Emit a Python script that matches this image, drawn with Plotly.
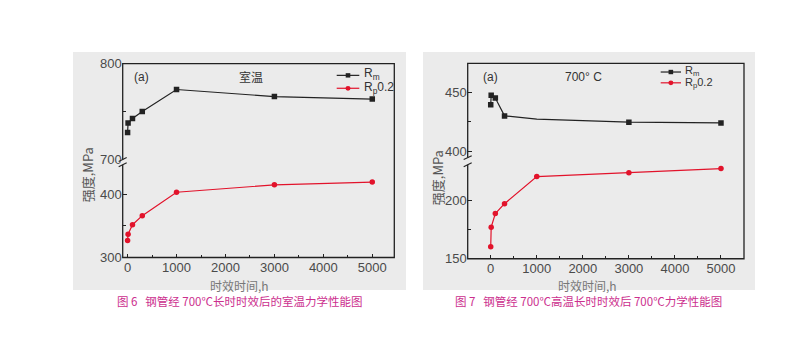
import plotly.graph_objects as go

# Aging time (h) for both test series
hours = [0, 10, 100, 300, 1000, 3000, 5000]

# Fig. 6: room-temperature properties after aging at 700 C (MPa)
rt_rm = [728, 738, 742.6, 750, 773, 765.6, 763]
rt_rp02 = [327, 336.7, 351.7, 366, 403, 414.6, 419]

# Fig. 7: 700 C properties after aging at 700 C (MPa)
ht_rm = [439.7, 447.8, 445.4, 430.2, 427.5, 424.8, 424.2]
ht_rp02 = [160.3, 177, 188.6, 197, 220.2, 223.5, 227]

x_ticks = [0, 1000, 2000, 3000, 4000, 5000]
x_minor = [500, 1500, 2500, 3500, 4500]

W, H = 806, 342
BLACK = "#222222"
RED = "#e2132b"
PANEL = "#ebebeb"
TICK_FONT = dict(family="Liberation Sans, Noto Sans CJK SC", size=13, color="#4a4a4a")
CJK = "Noto Sans CJK SC, Liberation Sans"


def px(x):
    return x / W


def py(y):
    return 1 - y / H


fig = go.Figure()

# Rm on the upper segments, Rp0.2 on the lower segments
fig.add_trace(go.Scatter(x=hours, y=rt_rm, xaxis="x2", yaxis="y2", mode="lines+markers",
                         line=dict(color=BLACK, width=1.2),
                         marker=dict(symbol="square", size=5.5, color=BLACK), showlegend=False))
fig.add_trace(go.Scatter(x=hours, y=rt_rp02, xaxis="x", yaxis="y", mode="lines+markers",
                         line=dict(color=RED, width=1.2),
                         marker=dict(symbol="circle", size=5.5, color=RED), showlegend=False))
fig.add_trace(go.Scatter(x=hours, y=ht_rm, xaxis="x4", yaxis="y4", mode="lines+markers",
                         line=dict(color=BLACK, width=1.2),
                         marker=dict(symbol="square", size=5.5, color=BLACK,
                                     opacity=[1, 1, 1, 1, 0, 1, 1]),
                         showlegend=False))
fig.add_trace(go.Scatter(x=hours, y=ht_rp02, xaxis="x3", yaxis="y3", mode="lines+markers",
                         line=dict(color=RED, width=1.2),
                         marker=dict(symbol="circle", size=5.5, color=RED), showlegend=False))


def xaxis(left, right, rng, anchor, visible=True, match=None):
    d = dict(domain=[px(left), px(right)], range=rng, anchor=anchor, showgrid=False,
             zeroline=False, showline=False)
    if match:
        d["matches"] = match
    if visible:
        d.update(tickmode="array", tickvals=x_ticks, ticks="inside", ticklen=4,
                 tickcolor=BLACK, tickfont=TICK_FONT,
                 minor=dict(tickmode="array", tickvals=x_minor, ticks="inside",
                            ticklen=3, tickcolor=BLACK))
    else:
        d.update(showticklabels=False, ticks="")
    return d


def yaxis(top, bottom, rng, anchor, major, minor):
    return dict(domain=[py(bottom), py(top)], range=rng, anchor=anchor, showgrid=False,
                zeroline=False, showline=False, tickmode="array", tickvals=major,
                ticks="inside", ticklen=4, tickcolor=BLACK, tickfont=TICK_FONT,
                minor=dict(tickmode="array", tickvals=minor, ticks="inside",
                           ticklen=3, tickcolor=BLACK))


# Panel geometry (pixels)
L1, R1, T1, B1 = 122.7, 394.3, 59.3, 262.0
L2, R2, T2, B2 = 467.7, 744.0, 59.0, 263.3

fig.update_layout(
    width=W, height=H, autosize=False,
    margin=dict(l=0, r=0, t=0, b=0),
    paper_bgcolor="white", plot_bgcolor="rgba(0,0,0,0)",
    xaxis=xaxis(L1, R1, [-100, 5450], "y"),
    yaxis=yaxis(165.0, B1, [300, 446.3], "x", [300, 400], [350]),
    xaxis2=xaxis(L1, R1, [-100, 5450], "y2", visible=False, match="x"),
    yaxis2=yaxis(T1, 159.3, [700, 800], "x2", [700, 800], [750]),
    xaxis3=xaxis(L2, R2, [-500, 5500], "y3"),
    yaxis3=yaxis(165.3, B2, [150, 230], "x3", [150, 200], [175]),
    xaxis4=xaxis(L2, R2, [-500, 5500], "y4", visible=False, match="x3"),
    yaxis4=yaxis(T2, 157.0, [395, 475], "x4", [400, 450], [425]),
)

shapes = []
# grey panel backgrounds
for (x0, x1) in [(73, 406), (423, 755)]:
    shapes.append(dict(type="rect", xref="paper", yref="paper", x0=px(x0), x1=px(x1),
                       y0=py(296), y1=py(47), fillcolor=PANEL, line=dict(width=0),
                       layer="below"))
# plot frames with a break on the left spine
for (l, r, t, b, g0, g1) in [(L1, R1, T1, B1, 159.5, 165.0), (L2, R2, T2, B2, 157.5, 165.0)]:
    shapes.append(dict(type="rect", xref="paper", yref="paper", x0=px(l), x1=px(r),
                       y0=py(b), y1=py(t), line=dict(color=BLACK, width=1.3)))
    shapes.append(dict(type="rect", xref="paper", yref="paper", x0=px(l - 2), x1=px(l + 2),
                       y0=py(g1), y1=py(g0), fillcolor=PANEL, line=dict(width=0)))
    for yy in (g0, g1):
        shapes.append(dict(type="line", xref="paper", yref="paper", x0=px(l - 4), x1=px(l + 4),
                           y0=py(yy + 2), y1=py(yy - 2), line=dict(color=BLACK, width=1.1)))

annotations = []


def text(x, y, s, size=12, color="#333333", xanchor="center", family=CJK, angle=0):
    annotations.append(dict(x=px(x), y=py(y), xref="paper", yref="paper", text=s,
                            showarrow=False, xanchor=xanchor, yanchor="middle",
                            font=dict(family=family, size=size, color=color),
                            textangle=angle))


# legends
for (x0, x1, yb, yr, tx, fs) in [(336.7, 359.3, 71.5, 85.0, 361.5, 12),
                                 (660.7, 681.0, 68.0, 79.3, 682.5, 11)]:
    xm = (x0 + x1) / 2
    shapes.append(dict(type="line", xref="paper", yref="paper", x0=px(x0), x1=px(x1),
                       y0=py(yb), y1=py(yb), line=dict(color=BLACK, width=1.2)))
    shapes.append(dict(type="rect", xref="paper", yref="paper", x0=px(xm - 2.3), x1=px(xm + 2.3),
                       y0=py(yb + 2.3), y1=py(yb - 2.3), fillcolor=BLACK, line=dict(width=0)))
    shapes.append(dict(type="line", xref="paper", yref="paper", x0=px(x0), x1=px(x1),
                       y0=py(yr), y1=py(yr), line=dict(color=RED, width=1.2)))
    shapes.append(dict(type="circle", xref="paper", yref="paper", x0=px(xm - 2.5), x1=px(xm + 2.5),
                       y0=py(yr + 2.5), y1=py(yr - 2.5), fillcolor=RED, line=dict(width=0)))
    text(tx, yb - 1, "R<sub>m</sub>", size=fs, xanchor="left", family="Liberation Sans")
    text(tx, yr, "R<sub>p</sub>0.2", size=fs, xanchor="left", family="Liberation Sans")

# panel labels
text(131.5, 73, "(a)", xanchor="left", family="Liberation Sans")
text(251.5, 73, "室温")
text(481.5, 73, "(a)", xanchor="left", family="Liberation Sans")
text(583, 73, "700° C", family="Liberation Sans")

# axis titles
text(87, 176, "强度,MPa", size=13, color="#555555", angle=-90)
text(437, 178, "强度,MPa", size=13, color="#555555", angle=-90)
text(240, 291.5, "时效时间,h", size=12, color="#777777")
text(587, 291.5, "时效时间,h", size=12, color="#777777")

# captions
CAP = "#cc2f8e"
text(239, 308, "图 6   钢管经 700℃长时时效后的室温力学性能图", size=11.5, color=CAP)
text(588, 308, "图 7   钢管经 700℃高温长时时效后 700℃力学性能图", size=11.5, color=CAP)

fig.update_layout(shapes=shapes, annotations=annotations)
fig.write_html("out.html")
